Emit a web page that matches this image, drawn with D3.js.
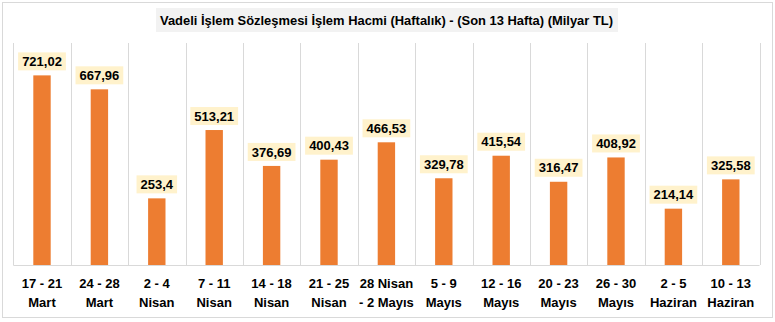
<!DOCTYPE html>
<html>
<head>
<meta charset="utf-8">
<script src="https://cdn.jsdelivr.net/npm/d3@7"></script>
<style>
  html, body { margin: 0; padding: 0; background: #fff; }
  svg { display: block; font-family: "Liberation Sans", Arial, sans-serif; }
</style>
</head>
<body>
<svg id="chart" width="775" height="322"></svg>
<script>
const title = "Vadeli İşlem Sözleşmesi İşlem Hacmi (Haftalık) - (Son 13 Hafta) (Milyar TL)";
const weekRanges = ["17 - 21", "24 - 28", "2 - 4", "7 - 11", "14 - 18", "21 - 25", "28 Nisan", "5 - 9", "12 - 16", "20 - 23", "26 - 30", "2 - 5", "10 - 13"];
const months = ["Mart", "Mart", "Nisan", "Nisan", "Nisan", "Nisan", "- 2 Mayıs", "Mayıs", "Mayıs", "Mayıs", "Mayıs", "Haziran", "Haziran"];
const volumes = [721.02, 667.96, 253.4, 513.21, 376.69, 400.43, 466.53, 329.78, 415.54, 316.47, 408.92, 214.14, 325.58];

const svg = d3.select("#chart");
const W = 775, H = 322;

const plot = { left: 13.3, right: 759.5, top: 43, bottom: 265 };

// outer frame
svg.append("rect")
  .attr("x", 2.5).attr("y", 2.5).attr("width", 770).attr("height", 315)
  .attr("fill", "#fff").attr("stroke", "#d9d9d9").attr("stroke-width", 1);

const x = d3.scaleBand()
  .domain(d3.range(volumes.length))
  .range([plot.left, plot.right])
  .paddingInner(0).paddingOuter(0);

const y = d3.scaleLinear()
  .domain([0, 800])
  .range([plot.bottom, plot.bottom - 210.4]);

// vertical category separators
const edges = d3.range(volumes.length + 1).map(i => plot.left + i * x.step());
svg.append("g").selectAll("line")
  .data(edges)
  .join("line")
  .attr("x1", d => Math.round(d) + 0.5).attr("x2", d => Math.round(d) + 0.5)
  .attr("y1", plot.top).attr("y2", plot.bottom)
  .attr("stroke", "#d9d9d9").attr("stroke-width", 1);

// baseline
svg.append("line")
  .attr("x1", plot.left).attr("x2", plot.right)
  .attr("y1", plot.bottom + 0.5).attr("y2", plot.bottom + 0.5)
  .attr("stroke", "#d9d9d9").attr("stroke-width", 1);

// bars
const barW = x.bandwidth() * 0.303;
svg.append("g").selectAll("rect")
  .data(volumes)
  .join("rect")
  .attr("x", (d, i) => x(i) + (x.bandwidth() - barW) / 2)
  .attr("y", d => y(d))
  .attr("width", barW)
  .attr("height", d => y(0) - y(d))
  .attr("fill", "#ed7d31");

// value labels with light boxes
const fmt = v => String(v).replace(".", ",");
const labels = svg.append("g").selectAll("g")
  .data(volumes)
  .join("g")
  .attr("transform", (d, i) => `translate(${x(i) + x.bandwidth() / 2},${y(d) - 5 - 9})`);

labels.append("text")
  .attr("text-anchor", "middle")
  .attr("dy", "0.36em")
  .attr("font-size", 13)
  .attr("font-weight", "bold")
  .attr("fill", "#000")
  .text(d => fmt(d));

labels.each(function () {
  const g = d3.select(this);
  const w = g.select("text").node().getComputedTextLength();
  g.insert("rect", "text")
    .attr("x", -w / 2 - 4).attr("y", -9)
    .attr("width", w + 8).attr("height", 18)
    .attr("fill", "#fff2cc");
});

// category labels (two lines)
const cats = svg.append("g").selectAll("text")
  .data(volumes.map((d, i) => i))
  .join("text")
  .attr("text-anchor", "middle")
  .attr("font-size", 13)
  .attr("font-weight", "bold")
  .attr("fill", "#000");
cats.append("tspan")
  .attr("x", i => x(i) + x.bandwidth() / 2).attr("y", 288)
  .text(i => weekRanges[i]);
cats.append("tspan")
  .attr("x", i => x(i) + x.bandwidth() / 2).attr("y", 307)
  .text(i => months[i]);

// title
const tg = svg.append("g");
tg.append("rect")
  .attr("x", 156).attr("y", 8).attr("width", 462).attr("height", 24)
  .attr("fill", "#f2f2f2");
tg.append("text")
  .attr("x", 160).attr("y", 20)
  .attr("dy", "0.36em")
  .attr("font-size", 12.5)
  .attr("font-weight", "bold")
  .attr("fill", "#000")
  .attr("textLength", 453)
  .attr("lengthAdjust", "spacingAndGlyphs")
  .text(title);
</script>
</body>
</html>
